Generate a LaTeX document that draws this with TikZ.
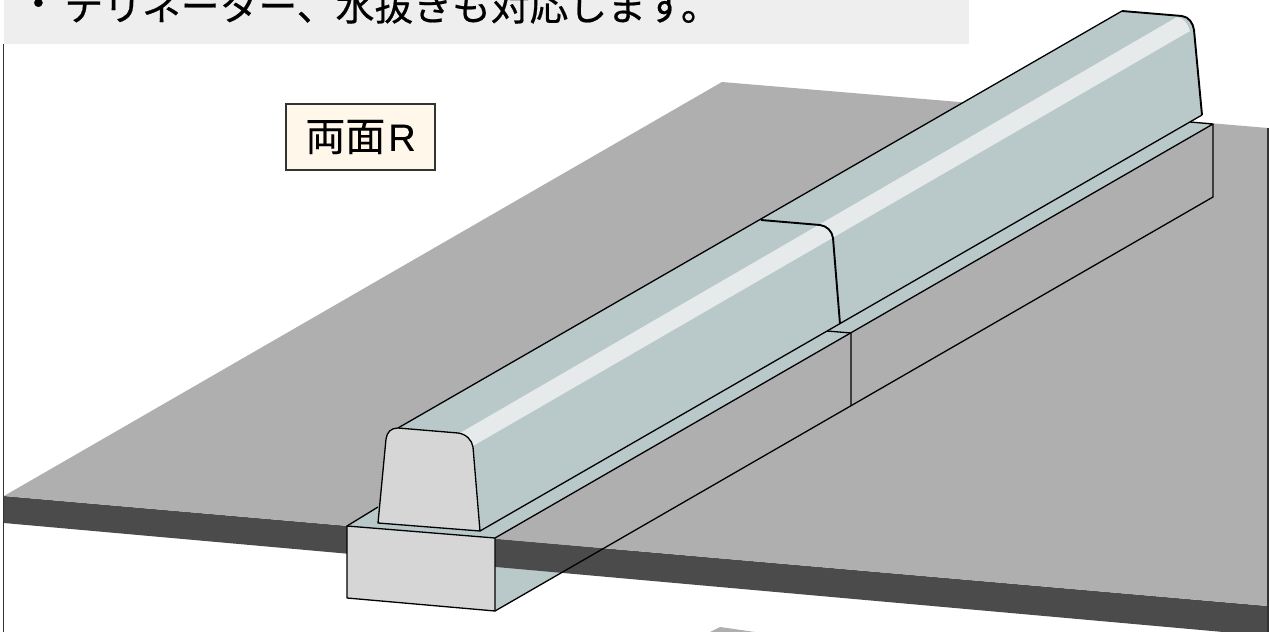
\documentclass[tikz,border=0pt]{standalone}
\usepackage{fontspec}
\newfontfamily\cjk[FakeBold=0.5]{Noto Sans CJK JP}
\newfontfamily\cjklab[FakeBold=0.2]{Noto Sans CJK JP}
\newfontfamily\lat[FakeBold=0.2]{Liberation Sans}
\definecolor{ground}{HTML}{AFAFAF}
\definecolor{band}{HTML}{4B4B4B}
\definecolor{facecol}{HTML}{D6D6D6}
\definecolor{sidecol}{HTML}{B9C8C9}
\definecolor{stripcol}{HTML}{E6EAEB}
\definecolor{capfill}{HTML}{EEEEEE}
\definecolor{labfill}{HTML}{FFF7EA}
\definecolor{framecol}{HTML}{333333}
\tikzset{
  outline/.style={draw=black,line width=0.65pt,line join=round},
  thickline/.style={draw=black,line width=0.95pt,line join=round},
  framel/.style={draw=framecol,line width=0.8pt},
}
\begin{document}
\begin{tikzpicture}[x=0.5pt,y=-0.5pt]
\useasboundingbox (0,0) rectangle (1270,632);
\begin{scope}
\clip (0,0) rectangle (1270,632);
\fill[white] (0,0) rectangle (1270,632);
% lower ground piece
\fill[ground] (700,637) -- (720,627) -- (790,637) -- cycle;
% hidden side of the base, seen below the ground
\fill[sidecol] (495,538) -- (495,611) -- (640,527) -- cycle;
% ground
\fill[band] (4,496) -- (1268,606) -- (1268,636) -- (4,523) -- cycle;
\fill[ground] (4,496) -- (722,82) -- (1268,128) -- (1268,606) -- cycle;
% top caption
\fill[capfill] (4,0) rectangle (969,44);
\node[anchor=base west,inner sep=0pt,font=\cjk\fontsize{19.4}{20}\selectfont] (cap) at (18.6,20.5) {\raisebox{1.5pt}{・}\kern3.3pt テリネーター、水抜きも対応します。};
% frame
\draw[framel] (3.5,44) -- (3.5,632);
\draw[framel] (1268,128) -- (1268,632);
% label
\node[draw=framecol,line width=0.6pt,fill=labfill,minimum width=74.5pt,minimum height=33pt,inner sep=0pt,font=\cjklab\fontsize{20}{20}\selectfont] (lab) at (360.5,137) {\raisebox{-0.5pt}{両面\kern1.5pt{\lat\fontsize{19}{20}\selectfont R}}};
% base top
\fill[sidecol] (347,526) -- (495,538) -- (1213,124) -- (1190,122) -- (1100,60) -- (378,507) -- cycle;
\draw[outline] (378,507) -- (347,526);
\draw[outline] (495,538) -- (1213,124) -- (1190,122);
\draw[outline] (827,331) -- (851,333) -- (851,405);
\draw[outline] (1213,124) -- (1213,197) -- (495,611);
% base front
\path[fill=facecol,outline] (347,526) -- (495,538) -- (495,611) -- (347,598) -- cycle;
% curb side
\fill[sidecol] (398,428) -- (1122,11) -- (1182,16) .. controls (1189,17) and (1193,23) .. (1194,30) -- (1202,115) -- (480,531) -- (473,447) .. controls (472,440) and (466,434) .. (458,433) -- cycle;
\fill[stripcol] (460,433) -- (1177,17) .. controls (1184,18) and (1188,24) .. (1190,31) -- (473,446) .. controls (471,440) and (466,434) .. (460,433) -- cycle;
\draw[outline] (398,428) -- (1122,11);
\draw[outline] (480,531) -- (1202,115);
\draw[thickline] (1122,11) -- (1182,16) .. controls (1189,17) and (1193,23) .. (1194,30) -- (1202,115);
\draw[thickline] (761,220) -- (820,225) .. controls (827,226) and (832,231) .. (833,238) -- (840,324);
% curb front
\path[fill=facecol,outline] (378,523) -- (386,439) .. controls (387,432) and (391,428) .. (398,428) -- (458,433) .. controls (466,434) and (472,440) .. (473,447) -- (480,531) -- cycle;
\end{scope}
\end{tikzpicture}
\end{document}
